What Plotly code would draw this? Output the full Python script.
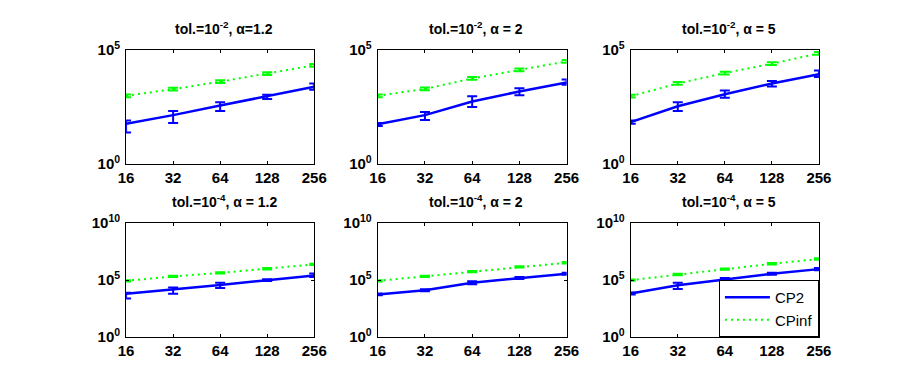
import plotly.graph_objects as go

# problem sizes (x axis, log2 spaced)
sizes = [16, 32, 64, 128, 256]

# values, stored as log10 exponents
# top row: tol = 1e-2
cp2_a12 = [1.76, 2.14, 2.56, 2.97, 3.39]
cp2_a12_lo = [1.38, 1.79, 2.32, 2.85, 3.26]
cp2_a12_hi = [1.90, 2.32, 2.71, 3.04, 3.53]
inf_a12 = [2.99, 3.28, 3.61, 3.96, 4.33]

cp2_a2 = [1.74, 2.14, 2.74, 3.18, 3.57]
cp2_a2_lo = [1.66, 1.93, 2.50, 3.01, 3.47]
cp2_a2_hi = [1.80, 2.28, 2.97, 3.32, 3.71]
inf_a2 = [2.99, 3.29, 3.75, 4.13, 4.50]

cp2_a5 = [1.83, 2.53, 3.06, 3.53, 3.94]
cp2_a5_lo = [1.76, 2.32, 2.90, 3.40, 3.82]
cp2_a5_hi = [1.90, 2.71, 3.22, 3.64, 4.10]
inf_a5 = [2.97, 3.53, 3.99, 4.40, 4.85]

# bottom row: tol = 1e-4
cp2_b12 = [3.81, 4.17, 4.58, 5.00, 5.42]
cp2_b12_lo = [3.39, 3.81, 4.31, 4.92, 5.28]
cp2_b12_hi = [3.89, 4.36, 4.78, 5.08, 5.58]
inf_b12 = [4.94, 5.33, 5.64, 6.00, 6.39]

cp2_b2 = [3.75, 4.11, 4.78, 5.19, 5.56]
cp2_b2_lo = [3.67, 4.02, 4.64, 5.10, 5.47]
cp2_b2_hi = [3.83, 4.20, 4.90, 5.28, 5.65]
inf_b2 = [4.94, 5.33, 5.75, 6.17, 6.53]

cp2_b5 = [3.83, 4.56, 5.06, 5.56, 5.97]
cp2_b5_lo = [3.75, 4.22, 4.94, 5.47, 5.88]
cp2_b5_hi = [3.91, 4.78, 5.18, 5.65, 6.06]
inf_b5 = [5.00, 5.50, 5.97, 6.44, 6.86]

inf_err = 0.06  # green error bars are tiny (in decades)

titles = ["tol.=10<sup>-2</sup>, α=1.2", "tol.=10<sup>-2</sup>, α = 2", "tol.=10<sup>-2</sup>, α = 5",
          "tol.=10<sup>-4</sup>, α = 1.2", "tol.=10<sup>-4</sup>, α = 2", "tol.=10<sup>-4</sup>, α = 5"]

panels = [
    (cp2_a12, cp2_a12_lo, cp2_a12_hi, inf_a12),
    (cp2_a2, cp2_a2_lo, cp2_a2_hi, inf_a2),
    (cp2_a5, cp2_a5_lo, cp2_a5_hi, inf_a5),
    (cp2_b12, cp2_b12_lo, cp2_b12_hi, inf_b12),
    (cp2_b2, cp2_b2_lo, cp2_b2_hi, inf_b2),
    (cp2_b5, cp2_b5_lo, cp2_b5_hi, inf_b5),
]

# page body has an 8px margin, so the figure is a bit smaller and shifted
OFF = 8
W, H = 921 - 2 * OFF, 386 - 2 * OFF
xdoms = [(120.7, 313.3), (378.3, 571.7), (637.3, 830.0)]
ydoms = [(40.7, 160.7), (223.3, 343.3)]


def px(x):
    return (x - OFF) / W


def py(y):
    return 1 - (y - OFF) / H


BLUE = "#0000ff"
GREEN = "#00ff00"
FONT = "Liberation Sans, Arial, sans-serif"

fig = go.Figure()
layout = dict(
    width=W, height=H,
    margin=dict(l=0, r=0, t=0, b=0),
    paper_bgcolor="white", plot_bgcolor="white",
    font=dict(family=FONT, color="black"),
    annotations=[],
)

for i, (m, lo, hi, gi) in enumerate(panels):
    r, c = divmod(i, 3)
    n = i + 1
    xa = "x" if n == 1 else "x%d" % n
    ya = "y" if n == 1 else "y%d" % n

    y = [10 ** v for v in m]
    up = [10 ** h - 10 ** v for h, v in zip(hi, m)]
    dn = [10 ** v - 10 ** l for l, v in zip(lo, m)]
    fig.add_trace(go.Scatter(
        x=sizes, y=y, mode="lines", name="CP2", showlegend=(i == 0),
        line=dict(color=BLUE, width=2.5), xaxis=xa, yaxis=ya,
        error_y=dict(type="data", symmetric=False, array=up, arrayminus=dn,
                     color=BLUE, thickness=2, width=5),
    ))
    g = [10 ** v for v in gi]
    gup = [10 ** (v + inf_err) - 10 ** v for v in gi]
    gdn = [10 ** v - 10 ** (v - inf_err) for v in gi]
    fig.add_trace(go.Scatter(
        x=sizes, y=g, mode="lines", name="CPinf", showlegend=(i == 0),
        line=dict(color=GREEN, width=2, dash="2px,4px"), xaxis=xa, yaxis=ya,
        error_y=dict(type="data", symmetric=False, array=gup, arrayminus=gdn,
                     color=GREEN, thickness=2, width=5),
    ))

    x0, x1 = xdoms[c]
    y0, y1 = ydoms[r]
    if r == 0:
        yt = [1, 1e5]
        ytt = ["10<sup>0</sup>", "10<sup>5</sup>"]
        yr = [0, 5]
    else:
        yt = [1, 1e5, 1e10]
        ytt = ["10<sup>0</sup>", "10<sup>5</sup>", "10<sup>10</sup>"]
        yr = [0, 10]
    axis_common = dict(
        showline=True, linecolor="black", linewidth=1, mirror="ticks",
        ticks="inside", ticklen=3, tickcolor="black", showgrid=False, zeroline=False,
        tickfont=dict(family=FONT, size=15, color="black", weight="bold"),
    )
    layout["xaxis" if n == 1 else "xaxis%d" % n] = dict(
        axis_common, type="log", domain=[px(x0), px(x1)], anchor=ya,
        range=[1.2041, 2.4082], tickvals=sizes, ticktext=[str(s) for s in sizes],
    )
    layout["yaxis" if n == 1 else "yaxis%d" % n] = dict(
        axis_common, type="log", domain=[py(y1), py(y0)], anchor=xa,
        range=yr, tickvals=yt, ticktext=ytt, ticklabelstandoff=2,
    )
    layout["annotations"].append(dict(
        text="<b>" + titles[i] + "</b>", xref="paper", yref="paper",
        x=px((x0 + x1) / 2 + 4), y=py(y0 - 12), xanchor="center", yanchor="bottom",
        showarrow=False, font=dict(family=FONT, size=14, color="black"),
    ))

layout["legend"] = dict(
    x=px(830), y=py(343.3), xanchor="right", yanchor="bottom",
    bgcolor="white", bordercolor="black", borderwidth=1,
    font=dict(family=FONT, size=15, color="black"),
    tracegroupgap=0, itemwidth=45,
)

fig.update_layout(**layout)
fig.write_html("out.html")
